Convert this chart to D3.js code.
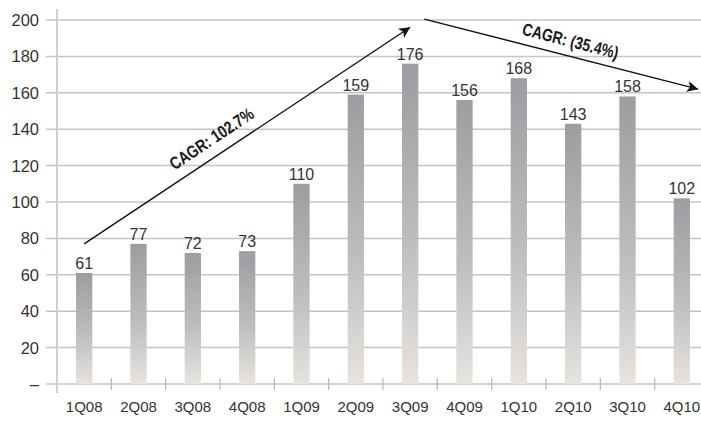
<!DOCTYPE html>
<html>
<head>
<meta charset="utf-8">
<script src="https://cdn.jsdelivr.net/npm/d3@7/dist/d3.min.js"></script>
<style>
  html, body { margin: 0; padding: 0; background: #fff; }
  svg { display: block; }
</style>
</head>
<body>
<svg id="chart" width="701" height="431"></svg>
<script>
// Quarterly values
const quarters = ["1Q08","2Q08","3Q08","4Q08","1Q09","2Q09","3Q09","4Q09","1Q10","2Q10","3Q10","4Q10"];
const values = [61, 77, 72, 73, 110, 159, 176, 156, 168, 143, 158, 102];
const yTicks = [0, 20, 40, 60, 80, 100, 120, 140, 160, 180, 200];
const yTickLabels = ["–", "20", "40", "60", "80", "100", "120", "140", "160", "180", "200"];

// Growth arrows: [quarter, offset within the step, value]
const arrowStarts = [["1Q08", 0.0, 77], ["3Q09", 0.26, 200.5]];
const arrowEnds = [["3Q09", 0.0, 196], ["4Q10", 0.3, 162]];
const arrowLabels = ["CAGR: 102.7%", "CAGR: (35.4%)"];

(function draw() {
  const svg = d3.select("#chart");
  const W = 701;
  const plotLeft = 57, plotBottom = 384, plotTop = 20;

  const x = d3.scaleBand().domain(quarters).range([plotLeft, 709]).paddingInner(0.7).paddingOuter(0.35);
  const y = d3.scaleLinear().domain([0, 200]).range([plotBottom, plotTop]);
  const step = x.step();
  const boundary = (i) => plotLeft + i * step;

  const defs = svg.append("defs");
  const grad = defs.append("linearGradient").attr("id", "barGrad")
    .attr("x1", 0).attr("y1", 0).attr("x2", 0).attr("y2", 1);
  grad.append("stop").attr("offset", "0%").attr("stop-color", "#9d9da1");
  grad.append("stop").attr("offset", "55%").attr("stop-color", "#bdbdbf");
  grad.append("stop").attr("offset", "100%").attr("stop-color", "#e7e3de");

  const marker = defs.append("marker").attr("id", "arrowHead")
    .attr("viewBox", "0 0 10 10").attr("refX", 10).attr("refY", 5)
    .attr("markerWidth", 15).attr("markerHeight", 11).attr("markerUnits", "userSpaceOnUse")
    .attr("orient", "auto");
  marker.append("path").attr("d", "M0,0 L10,5 L0,10 L2.5,5 Z").attr("fill", "#111");

  const font = "'Liberation Sans', Arial, Helvetica, sans-serif";

  // Gridlines with short left ticks
  svg.append("g").selectAll("line").data(yTicks).join("line")
    .attr("x1", 46).attr("x2", W)
    .attr("y1", d => y(d)).attr("y2", d => y(d))
    .attr("stroke", "#c4c4c4").attr("stroke-width", 1.5);

  // Y labels
  svg.append("g").selectAll("text").data(yTicks).join("text")
    .attr("x", 39).attr("y", d => y(d) + 6)
    .attr("text-anchor", "end")
    .attr("font-family", font).attr("font-size", 16.5).attr("fill", "#333")
    .text((d, i) => yTickLabels[i]);

  // Vertical axis line
  svg.append("line").attr("x1", plotLeft).attr("x2", plotLeft).attr("y1", 9).attr("y2", 393)
    .attr("stroke", "#cfcfcf").attr("stroke-width", 2);

  // X ticks at band boundaries
  svg.append("g").selectAll("line").data(d3.range(1, quarters.length)).join("line")
    .attr("x1", i => boundary(i)).attr("x2", i => boundary(i))
    .attr("y1", plotBottom - 6).attr("y2", plotBottom + 6)
    .attr("stroke", "#b5b5b5").attr("stroke-width", 1.2);

  // Bars
  svg.append("g").selectAll("rect").data(values).join("rect")
    .attr("x", (d, i) => x(quarters[i]))
    .attr("width", x.bandwidth())
    .attr("y", d => y(d))
    .attr("height", d => plotBottom - y(d))
    .attr("fill", "url(#barGrad)");

  // Value labels
  svg.append("g").selectAll("text").data(values).join("text")
    .attr("x", (d, i) => x(quarters[i]) + x.bandwidth() / 2)
    .attr("y", d => y(d) - 4)
    .attr("text-anchor", "middle")
    .attr("font-family", font).attr("font-size", 16).attr("fill", "#333")
    .text(d => d);

  // X labels
  svg.append("g").selectAll("text").data(quarters).join("text")
    .attr("x", d => x(d) + x.bandwidth() / 2)
    .attr("y", 412)
    .attr("text-anchor", "middle")
    .attr("font-family", font).attr("font-size", 15).attr("fill", "#333")
    .text(d => d);

  // Growth arrows and labels
  const pt = (p) => [x(p[0]) + x.bandwidth() / 2 + p[1] * step, y(p[2])];
  arrowStarts.forEach((s, i) => {
    const [x1, y1] = pt(s);
    const [x2, y2] = pt(arrowEnds[i]);
    svg.append("line")
      .attr("x1", x1).attr("y1", y1).attr("x2", x2).attr("y2", y2)
      .attr("stroke", "#111").attr("stroke-width", 1.4)
      .attr("marker-end", "url(#arrowHead)");
    const ang = Math.atan2(y2 - y1, x2 - x1) * 180 / Math.PI;
    const t = i === 0 ? 0.42 : 0.52;
    const cx = x1 + (x2 - x1) * t, cy = y1 + (y2 - y1) * t;
    svg.append("text")
      .attr("transform", `translate(${cx},${cy}) rotate(${ang}) translate(0,${i === 0 ? -11 : -9}) scale(0.8,1)`)
      .attr("text-anchor", "middle")
      .attr("font-family", font).attr("font-weight", "bold").attr("font-size", 17.5)
      .attr("fill", "#1a1a1a")
      .text(arrowLabels[i]);
  });
})();
</script>
</body>
</html>
